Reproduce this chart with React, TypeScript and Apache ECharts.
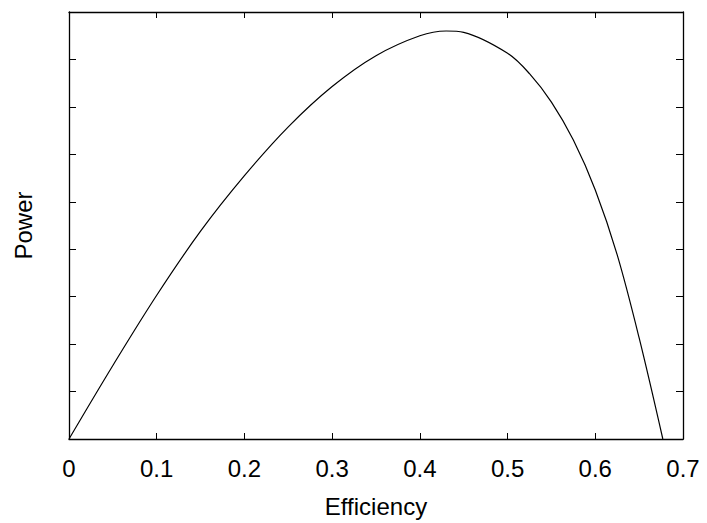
import React, { useEffect, useRef } from "react";
import * as echarts from "echarts";

const efficiency = [0, 0.05, 0.1, 0.15, 0.2, 0.25, 0.3, 0.35, 0.4, 0.43, 0.45, 0.5, 0.525, 0.55, 0.575, 0.6, 0.625, 0.65, 0.677];
const power = [0, 1.55, 3.03, 4.38, 5.55, 6.58, 7.43, 8.08, 8.5, 8.6, 8.57, 8.13, 7.7, 7.1, 6.3, 5.25, 3.88, 2.13, 0];

const font = "'Liberation Sans', Arial, sans-serif";

export default function App() {
  const ref = useRef<HTMLDivElement>(null);
  useEffect(() => {
    document.body.style.margin = "0";
    if (!ref.current) return;
    const chart = echarts.init(ref.current, null, { renderer: "svg" });
    const axisLine = { show: true, onZero: false, lineStyle: { color: "#000", width: 1.3 } };
    const tickStyle = { color: "#000", width: 1 };
    chart.setOption({
      animation: false,
      backgroundColor: "#fff",
      grid: { left: 69, right: 24, top: 12, bottom: 82, containLabel: false },
      xAxis: [
        {
          type: "value",
          min: 0,
          max: 0.7,
          interval: 0.1,
          position: "bottom",
          name: "Efficiency",
          nameLocation: "middle",
          nameGap: 55,
          nameTextStyle: { fontFamily: font, fontSize: 24, color: "#000" },
          axisLine,
          axisTick: { show: true, inside: true, length: 6, lineStyle: tickStyle },
          axisLabel: { fontFamily: font, fontSize: 24, color: "#000", margin: 17 },
          splitLine: { show: false },
        },
        {
          type: "value",
          min: 0,
          max: 0.7,
          interval: 0.1,
          position: "top",
          axisLine,
          axisTick: { show: true, inside: true, length: 6, lineStyle: tickStyle },
          axisLabel: { show: false },
          splitLine: { show: false },
        },
      ],
      yAxis: [
        {
          type: "value",
          min: 0,
          max: 9,
          interval: 1,
          position: "left",
          name: "Power",
          nameLocation: "middle",
          nameGap: 34,
          nameTextStyle: { fontFamily: font, fontSize: 24, color: "#000" },
          axisLine,
          axisTick: { show: true, inside: true, length: 7, lineStyle: tickStyle },
          axisLabel: { show: false },
          splitLine: { show: false },
        },
        {
          type: "value",
          min: 0,
          max: 9,
          interval: 1,
          position: "right",
          axisLine,
          axisTick: { show: true, inside: true, length: 7, lineStyle: tickStyle },
          axisLabel: { show: false },
          splitLine: { show: false },
        },
      ],
      series: [
        {
          type: "line",
          data: efficiency.map((e, i) => [e, power[i]]),
          smooth: 0.35,
          showSymbol: false,
          lineStyle: { color: "#000", width: 1.2 },
          xAxisIndex: 0,
          yAxisIndex: 0,
        },
      ],
    });
    return () => chart.dispose();
  }, []);
  return <div ref={ref} style={{ width: 707, height: 523 }} />;
}
